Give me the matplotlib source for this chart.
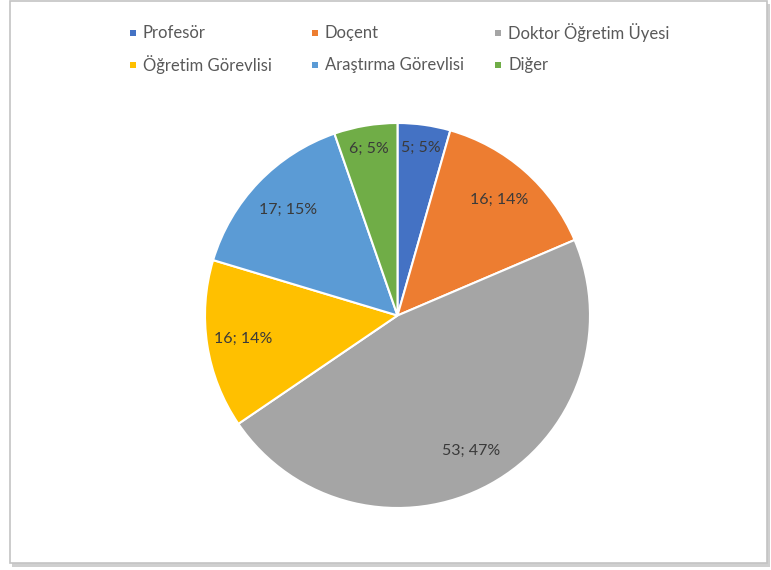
import matplotlib
matplotlib.use("Agg")
import matplotlib.pyplot as plt
from matplotlib.patches import Rectangle
import numpy as np

categories = ["Profesör", "Doçent", "Doktor Öğretim Üyesi",
              "Öğretim Görevlisi", "Araştırma Görevlisi", "Diğer"]
values = [5, 16, 53, 16, 17, 6]
percent_labels = ["5%", "14%", "47%", "14%", "15%", "5%"]
colors = ["#4472C4", "#ED7D31", "#A5A5A5", "#FFC000", "#5B9BD5", "#70AD47"]

plt.rcParams['font.family'] = ['Lato', 'DejaVu Sans']

W, H = 771, 570
fig = plt.figure(figsize=(W / 100, H / 100), dpi=100)
fig.patch.set_facecolor("white")

# frame with shadow
fig.add_artist(Rectangle((12 / W, 1 - 567 / H), (770 - 12) / W, (567 - 4) / H,
                         transform=fig.transFigure, facecolor="#cfcfcf",
                         edgecolor="none", zorder=0))
fig.add_artist(Rectangle((10 / W, 1 - 563 / H), (767 - 10) / W, (563 - 1) / H,
                         transform=fig.transFigure, facecolor="white",
                         edgecolor="#c4c4c4", linewidth=1.2, zorder=1))

cx, cy, r = 397.5, 315.5, 192.5
ax = fig.add_axes([(cx - r) / W, (H - cy - r) / H, 2 * r / W, 2 * r / H])
ax.set_zorder(2)
wedges, _ = ax.pie(values, colors=colors, startangle=90, counterclock=False,
                   wedgeprops=dict(edgecolor="white", linewidth=1.5),
                   radius=1, frame=False)
ax.set_xlim(-1, 1)
ax.set_ylim(-1, 1)
ax.set_aspect("auto")
ax.axis("off")

total = sum(values)
cum = 0
label_r = [0.88, 0.80, 0.80, 0.81, 0.79, 0.88]
for v, p, lr in zip(values, percent_labels, label_r):
    mid = 90 - (cum + v / 2) / total * 360
    cum += v
    x = lr * np.cos(np.radians(mid))
    y = lr * np.sin(np.radians(mid))
    ax.text(x, y, f"{v}; {p}", ha="center", va="center", fontsize=11.5,
            color="#3a3a3a")

# legend (row-major, 3 columns)
col_x = [133, 315, 498]
row_y = [33, 65]
for i, (name, c) in enumerate(zip(categories, colors)):
    mx = col_x[i % 3]
    my = row_y[i // 3]
    s = 6
    fig.add_artist(Rectangle(((mx - s / 2) / W, 1 - (my + s / 2) / H), s / W, s / H,
                             transform=fig.transFigure, facecolor=c,
                             edgecolor="none", zorder=3))
    fig.text((mx + 10) / W, 1 - my / H, name, ha="left", va="center",
             fontsize=12, color="#595959", zorder=3)

fig.savefig("out.png", dpi=100)
